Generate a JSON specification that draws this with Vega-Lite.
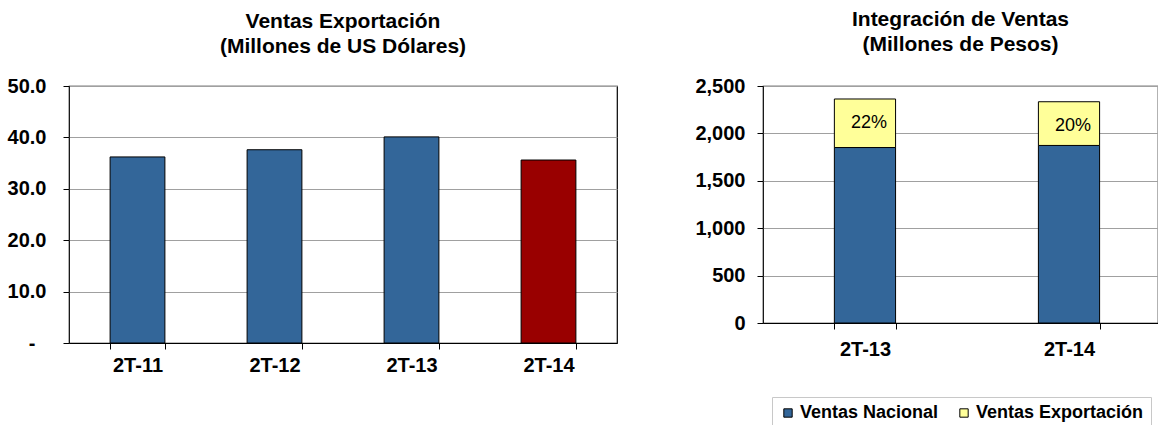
{
  "$schema": "https://vega.github.io/schema/vega-lite/v6.json",
  "padding": {"left": 6, "top": 8, "right": 0, "bottom": 0},
  "background": "white",
  "spacing": 76,
  "resolve": {"legend": {"color": "independent"}},
  "config": {
    "font": "Liberation Sans",
    "view": {"stroke": "black", "strokeWidth": 1.2},
    "title": {"font": "Liberation Sans", "fontSize": 21, "fontWeight": "bold", "color": "black", "lineHeight": 25, "offset": 19},
    "axis": {
      "labelFont": "Liberation Sans", "labelFontSize": 20, "labelFontWeight": "bold", "labelColor": "black",
      "domainColor": "black", "tickColor": "black", "tickSize": 6, "gridColor": "#a0a0a0", "gridWidth": 1, "title": null
    }
  },
  "datasets": {
    "export": [
      {"periodo": "2T-11", "valor": 36.2},
      {"periodo": "2T-12", "valor": 37.6},
      {"periodo": "2T-13", "valor": 40.1},
      {"periodo": "2T-14", "valor": 35.6}
    ],
    "integ": [
      {"periodo": "2T-13", "tipo": "Ventas Nacional", "valor": 1851},
      {"periodo": "2T-13", "tipo": "Ventas Exportación", "valor": 512, "pct": 0.22},
      {"periodo": "2T-14", "tipo": "Ventas Nacional", "valor": 1873},
      {"periodo": "2T-14", "tipo": "Ventas Exportación", "valor": 461, "pct": 0.20}
    ]
  },
  "hconcat": [
    {
      "width": 548,
      "height": 257,
      "title": {"text": ["Ventas Exportación", "(Millones de US Dólares)"]},
      "data": {"name": "export"},
      "mark": {"type": "bar", "stroke": "black", "strokeWidth": 1},
      "encoding": {
        "x": {
          "field": "periodo", "type": "nominal",
          "scale": {"paddingInner": 0.6, "paddingOuter": 0.3},
          "axis": {"labelAngle": 0, "tickBand": "extent", "labelPadding": 6, "domainWidth": 1.2}
        },
        "y": {
          "field": "valor", "type": "quantitative",
          "scale": {"domain": [0, 50], "nice": false},
          "axis": {
            "values": [0, 10, 20, 30, 40, 50],
            "labelExpr": "datum.value == 0 ? '-' : format(datum.value, '.1f')",
            "domain": false,
            "labelPadding": {"condition": {"test": "datum.value == 0", "value": 28}, "value": 17}
          }
        },
        "color": {
          "condition": {"test": "datum.periodo == '2T-14'", "value": "#990000"},
          "value": "#336699"
        }
      }
    },
    {
      "width": 395,
      "height": 237,
      "title": {"text": ["Integración de Ventas", "(Millones de Pesos)"], "offset": 21},
      "data": {"name": "integ"},
      "layer": [
        {
          "mark": {"type": "bar", "stroke": "black", "strokeWidth": 1},
          "encoding": {
            "x": {
              "field": "periodo", "type": "nominal",
              "scale": {"paddingInner": 0.7, "paddingOuter": 0.318, "align": 0.55},
              "axis": {"labelAngle": 0, "tickBand": "extent", "labelPadding": 10, "domainWidth": 1.2}
            },
            "y": {
              "field": "valor", "type": "quantitative", "stack": "zero",
              "scale": {"domain": [0, 2500], "nice": false},
              "axis": {"values": [0, 500, 1000, 1500, 2000, 2500], "labelExpr": "format(datum.value, ',')", "domain": false, "labelPadding": 12}
            },
            "color": {
              "field": "tipo", "type": "nominal",
              "scale": {"domain": ["Ventas Nacional", "Ventas Exportación"], "range": ["#336699", "#FFFF99"]},
              "legend": {
                "title": null, "orient": "none", "direction": "horizontal", "legendX": 9, "legendY": 311,
                "symbolType": "square", "symbolSize": 70, "symbolStrokeColor": "black", "symbolStrokeWidth": 1,
                "labelFont": "Liberation Sans", "labelFontSize": 18, "labelFontWeight": "bold", "labelColor": "black", "labelLimit": 400,
                "strokeColor": "#c8c8c8", "padding": 7, "columnPadding": 16, "labelOffset": 3
              }
            },
            "order": {"field": "tipo", "sort": "descending"}
          }
        },
        {
          "mark": {"type": "text", "fontSize": 18, "font": "Liberation Sans", "color": "black", "dy": 24, "dx": 4, "baseline": "middle"},
          "encoding": {
            "x": {"field": "periodo", "type": "nominal"},
            "y": {"aggregate": "sum", "field": "valor", "type": "quantitative"},
            "text": {"aggregate": "max", "field": "pct", "type": "quantitative", "format": ".0%"}
          }
        }
      ]
    }
  ]
}
